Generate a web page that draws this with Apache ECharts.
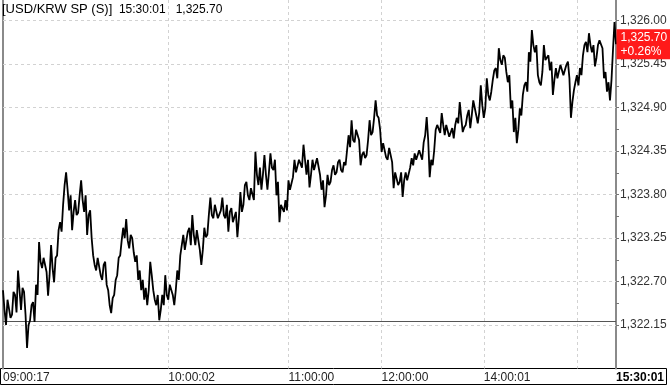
<!DOCTYPE html>
<html>
<head>
<meta charset="utf-8">
<script src="https://cdn.jsdelivr.net/npm/echarts@6/dist/echarts.min.js"></script>
<style>
html,body{margin:0;padding:0;background:#fff;}
#chart{width:670px;height:387px;}
</style>
</head>
<body>
<div id="chart"></div>
<script>
// ---- data ----
const symbolName = '[USD/KRW SP (S)]';
const lastTime = '15:30:01';
const prevClose = 1322.20;
const lastPrice = 1325.70;
const prices = [
1322.59,1322.34, 1322.15,1322.47, 1322.47,1322.24, 1322.28,1322.57, 1322.53,1322.31,
1322.84,1322.59, 1322.34,1322.62, 1322.57,1322.28, 1321.86,1322.15, 1322.21,1322.40,
1322.44,1322.19, 1322.66,1322.53, 1323.20,1322.95, 1322.87,1323.00, 1323.00,1322.82,
1322.52,1322.78, 1323.16,1322.87, 1322.69,1323.00, 1323.03,1323.35, 1323.45,1323.33,
1323.67,1323.92, 1324.08,1323.86, 1323.60,1323.79, 1323.35,1323.58, 1323.73,1323.54,
1323.57,1323.79, 1323.98,1323.73, 1323.58,1323.79, 1323.29,1323.54, 1323.60,1323.25,
1323.03,1322.91, 1322.84,1323.00, 1323.00,1322.78, 1322.72,1322.91, 1322.95,1322.66,
1322.59,1322.40, 1322.30,1322.49, 1322.53,1322.72, 1322.78,1323.00, 1323.03,1323.22,
1323.38,1323.25, 1323.49,1323.22, 1323.12,1323.29, 1323.25,1323.07, 1322.95,1323.03,
1322.72,1322.84, 1322.59,1322.72, 1322.47,1322.62, 1322.40,1322.59, 1322.95,1322.78,
1322.59,1322.47, 1322.40,1322.53, 1322.21,1322.34, 1322.53,1322.40, 1322.78,1322.53,
1322.47,1322.66, 1322.66,1322.53, 1322.40,1322.59, 1322.84,1322.72, 1323.03,1323.16,
1323.29,1323.10, 1323.12,1323.33, 1323.38,1323.16, 1323.54,1323.29, 1323.16,1323.35,
1323.33,1323.10, 1322.91,1323.10, 1323.38,1323.26, 1323.29,1323.54, 1323.76,1323.54,
1323.50,1323.67, 1323.68,1323.50, 1323.48,1323.60, 1323.76,1323.54, 1323.50,1323.67,
1323.33,1323.58, 1323.63,1323.45, 1323.45,1323.58, 1323.26,1323.50, 1323.83,1323.58,
1323.67,1323.92, 1323.96,1323.79, 1323.73,1323.88, 1323.88,1323.73, 1324.34,1324.05,
1323.92,1324.14, 1323.86,1324.05, 1324.30,1324.05, 1323.86,1324.08, 1324.32,1324.14,
1324.11,1324.24, 1323.79,1323.96, 1323.45,1323.67, 1323.67,1323.58, 1323.73,1323.60,
1323.98,1323.86, 1323.88,1324.02, 1324.24,1324.08, 1324.08,1324.24, 1324.26,1324.14,
1324.43,1324.24, 1324.05,1324.24, 1323.89,1324.05, 1324.24,1324.11, 1324.11,1324.26,
1324.26,1324.05, 1323.86,1323.98, 1323.64,1323.79, 1324.05,1323.92, 1323.96,1324.11,
1324.17,1324.05, 1324.08,1324.21, 1324.24,1324.11, 1324.08,1324.21, 1324.17,1324.36,
1324.55,1324.40, 1324.74,1324.49, 1324.46,1324.62, 1324.64,1324.49, 1324.17,1324.30,
1324.34,1324.26, 1324.30,1324.49, 1324.74,1324.55, 1324.59,1324.77, 1324.99,1324.80,
1324.77,1324.62, 1324.34,1324.45, 1324.43,1324.27, 1324.24,1324.39, 1324.39,1324.21,
1323.88,1324.08, 1324.08,1323.92, 1323.96,1324.08, 1323.77,1323.98, 1324.08,1323.98,
1323.98,1324.14, 1324.26,1324.17, 1324.32,1324.24, 1324.24,1324.36, 1324.36,1324.24,
1324.46,1324.55, 1324.78,1324.49, 1324.02,1324.24, 1324.17,1324.36, 1324.62,1324.68,
1324.70,1324.58, 1324.83,1324.68, 1324.55,1324.68, 1324.68,1324.53, 1324.53,1324.64,
1324.51,1324.68, 1324.77,1324.70, 1324.97,1324.77, 1324.59,1324.65, 1324.68,1324.80,
1324.87,1324.64, 1324.80,1324.99, 1324.99,1324.80, 1324.70,1324.84, 1325.18,1324.93,
1324.77,1324.89, 1325.27,1325.06, 1324.99,1325.10, 1325.25,1325.37, 1325.40,1325.27,
1325.65,1325.50, 1325.44,1325.56, 1325.53,1325.35, 1325.22,1325.31, 1324.89,1324.99,
1324.59,1324.77, 1324.45,1324.62, 1324.89,1324.80, 1325.06,1325.18, 1325.22,1325.10,
1325.60,1325.48, 1325.88,1325.69, 1325.60,1325.69, 1325.31,1325.22, 1325.18,1325.35,
1325.69,1325.50, 1325.48,1325.56, 1325.37,1325.48, 1325.06,1325.25, 1325.40,1325.27,
1325.27,1325.44, 1325.44,1325.31, 1325.31,1325.44, 1325.48,1325.27, 1324.77,1324.97,
1325.12,1325.22, 1325.31,1325.18, 1325.40,1325.31, 1325.56,1325.69, 1325.73,1325.60,
1325.84,1325.69, 1325.60,1325.69, 1325.42,1325.53, 1325.69,1325.75, 1325.75,1325.65,
1325.27,1325.35, 1325.10,1325.22, 1324.99,1325.25, 1325.63,1325.98, 1325.70
];
const timeTickIndex = [0, 110, 190, 252, 320, 408];
const timeTickLabels = ['09:00:17', '10:00:02', '11:00:00', '12:00:00', '14:00:01', '15:30:01'];
const timeGridIndex = [110, 190, 252, 320, 382];
const priceTicks = [1322.15, 1322.70, 1323.25, 1323.80, 1324.35, 1324.90, 1325.45, 1326.00];
const priceMinorTicks = [1322.15, 1322.425, 1322.70, 1322.975, 1323.25, 1323.525, 1323.80, 1324.075,
  1324.35, 1324.625, 1324.90, 1325.175, 1325.45, 1325.725, 1326.00];

// ---- helpers ----
function fmtPrice(v) {
  const s = Number(v).toFixed(2);
  const [a, b] = s.split('.');
  return a.replace(/\B(?=(\d{3})+(?!\d))/g, ',') + '.' + b;
}
const pct = (lastPrice / prevClose - 1) * 100;
const pctText = (pct >= 0 ? '+' : '') + pct.toFixed(2) + '%';
const categories = prices.map((_, i) => String(i));
const lastIdx = prices.length - 1;
const FONT = '"Liberation Sans", Arial, sans-serif';

const chart = echarts.init(document.getElementById('chart'), null, {renderer: 'canvas'});
chart.setOption({
  animation: false,
  backgroundColor: '#fff',
  textStyle: {fontFamily: FONT},
  title: {
    text: '{a|' + symbolName + '}  {b|' + lastTime + '}   {b|' + fmtPrice(lastPrice) + '}',
    left: 2, top: 3, padding: 0,
    textStyle: {
      fontSize: 12, fontWeight: 'normal', color: '#000', fontFamily: FONT,
      rich: {
        a: {fontSize: 13, color: '#000', fontFamily: FONT},
        b: {fontSize: 12, color: '#000', fontFamily: FONT}
      }
    }
  },
  grid: {left: 3, right: 54, top: 0, bottom: 18.5, containLabel: false},
  xAxis: {
    type: 'category',
    data: categories,
    boundaryGap: false,
    axisLine: {show: false},
    axisTick: {show: false},
    axisLabel: {
      interval: (i) => timeTickIndex.indexOf(i) >= 0,
      formatter: (v) => {
        const k = timeTickIndex.indexOf(Number(v));
        if (k < 0) return '';
        return k === timeTickLabels.length - 1 ? '{b|' + timeTickLabels[k] + '}' : timeTickLabels[k];
      },
      align: 'left',
      verticalAlign: 'top',
      margin: 3,
      fontSize: 12,
      color: '#222',
      fontFamily: FONT,
      hideOverlap: false,
      showMinLabel: true,
      showMaxLabel: true,
      rich: {b: {fontWeight: 'bold', fontSize: 12, color: '#000', fontFamily: FONT}}
    },
    splitLine: {
      show: true,
      interval: (i) => timeGridIndex.indexOf(i) >= 0,
      lineStyle: {color: '#d2d2d2', type: [3, 3], width: 1}
    }
  },
  yAxis: [{
    type: 'value',
    position: 'right',
    min: 1321.60,
    max: 1326.26,
    scale: true,
    axisLine: {show: true, lineStyle: {color: '#8a8a8a', width: 2}},
    axisTick: {show: true, length: 3, inside: false, customValues: priceMinorTicks, lineStyle: {color: '#777', width: 1}},
    axisLabel: {
      customValues: priceTicks,
      formatter: (v) => fmtPrice(v),
      margin: 4, fontSize: 12, color: '#333', fontFamily: FONT
    },
    splitLine: {show: false}
  }, {
    type: 'value',
    position: 'left',
    min: 1321.60,
    max: 1326.26,
    axisLine: {show: true, lineStyle: {color: '#8a8a8a', width: 2}},
    axisTick: {show: false},
    axisLabel: {show: false},
    splitLine: {show: false}
  }],
  graphic: [{
    type: 'rect',
    shape: {x: 0.5, y: 368.5, width: 666, height: 16},
    style: {fill: null, stroke: '#000', lineWidth: 1},
    silent: true
  }],
  series: [{
    type: 'line',
    data: prices,
    yAxisIndex: 0,
    showSymbol: false,
    symbol: 'none',
    lineStyle: {color: '#000', width: 1.8},
    clip: false,
    z: 5,
    markLine: {
      silent: true,
      symbol: ['none', 'none'],
      animation: false,
      label: {show: false},
      z: 1,
      data: priceTicks.map(v => ({yAxis: v, lineStyle: {color: '#d2d2d2', type: [3, 3], width: 1}}))
        .concat([
          {yAxis: prevClose, lineStyle: {color: '#555', type: 'solid', width: 1}}
        ])
    },
    markPoint: {
      silent: true,
      animation: false,
      symbol: 'rect',
      symbolSize: 1,
      itemStyle: {color: 'rgba(0,0,0,0)'},
      z: 10,
      data: [{
        coord: [String(lastIdx), lastPrice],
        label: {
          show: true, position: 'right', distance: 0,
          formatter: fmtPrice(lastPrice) + '\n' + pctText,
          backgroundColor: '#ff1a1a', color: '#fff',
          fontSize: 12, lineHeight: 14, padding: [1, 6, 1, 4],
          align: 'left', verticalAlign: 'middle', fontFamily: FONT
        }
      }]
    }
  }]
});
</script>
</body>
</html>
